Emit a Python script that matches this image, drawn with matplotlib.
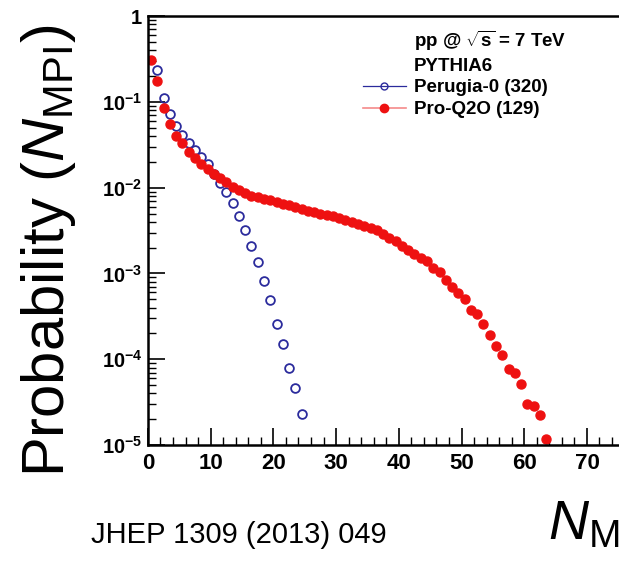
import math
import matplotlib
matplotlib.use('Agg')
import matplotlib.pyplot as plt
import matplotlib.ticker as ticker
from matplotlib.lines import Line2D

# N_MPI bin centres and probabilities
n_perugia = [1.5, 2.5, 3.5, 4.5, 5.5, 6.5, 7.5, 8.5, 9.5, 10.5, 11.5, 12.5,
             13.5, 14.5, 15.5, 16.5, 17.5, 18.5, 19.5, 20.5, 21.5, 22.5, 23.5, 24.5]
p_perugia = [0.235, 0.11, 0.0715, 0.052, 0.041, 0.033, 0.0274, 0.0225, 0.0187,
             0.0146, 0.0114, 0.0088, 0.00656, 0.00467, 0.0032, 0.0021, 0.00137,
             0.00081, 0.00049, 0.00026, 0.000152, 7.8e-5, 4.65e-5, 2.28e-5]

n_proq2o = [0.5, 1.5, 2.5, 3.5, 4.5, 5.5, 6.5, 7.5, 8.5, 9.5, 10.5, 11.5, 12.5,
            13.5, 14.5, 15.5, 16.5, 17.5, 18.5, 19.5, 20.5, 21.5, 22.5, 23.5,
            24.5, 25.5, 26.5, 27.5, 28.5, 29.5, 30.5, 31.5, 32.5, 33.5, 34.5,
            35.5, 36.5, 37.5, 38.5, 39.5, 40.5, 41.5, 42.5, 43.5, 44.5, 45.5,
            46.5, 47.5, 48.5, 49.5, 50.5, 51.5, 52.5, 53.5, 54.5, 55.5, 56.5,
            57.5, 58.5, 59.5, 60.5, 61.5, 62.5, 63.5]
p_proq2o = [0.31, 0.175, 0.084, 0.055, 0.040, 0.033, 0.026, 0.022, 0.0188, 0.0165,
            0.0145, 0.0129, 0.0115, 0.0102, 0.0093, 0.0086, 0.0081, 0.0078, 0.0074,
            0.0071, 0.0068, 0.0065, 0.0062, 0.0059, 0.0056, 0.0054, 0.0052, 0.0050,
            0.0048, 0.0047, 0.0044, 0.0042, 0.0040, 0.0038, 0.0036, 0.0034, 0.0032,
            0.0029, 0.0026, 0.0024, 0.0021, 0.0019, 0.0017, 0.0015, 0.0014, 0.00117,
            0.00105, 0.00084, 0.0007, 0.00059, 0.00051, 0.00037, 0.00034, 0.00026,
            0.00019, 0.000144, 0.000112, 7.6e-5, 6.9e-5, 5.2e-5, 3.0e-5, 2.85e-5,
            2.24e-5, 1.17e-5]

blue = '#2b2b9c'
red = '#ee1111'

plt.rcParams['font.family'] = ['Liberation Sans', 'DejaVu Sans']
plt.rcParams['mathtext.fontset'] = 'custom'
plt.rcParams['mathtext.rm'] = 'Liberation Sans'
plt.rcParams['mathtext.it'] = 'Liberation Sans:italic'
plt.rcParams['mathtext.bf'] = 'Liberation Sans:bold'

fig = plt.figure(figsize=(6.19, 5.65), dpi=100)
ax = fig.add_axes([0.239, 0.2124, 0.77, 0.759])

ax.plot(n_perugia, p_perugia, linestyle='none', marker='o', markersize=6.3,
        markerfacecolor='none', markeredgecolor=blue, markeredgewidth=1.3)
ax.plot(n_proq2o, p_proq2o, linestyle='none', marker='o', markersize=6.5,
        color=red, markeredgecolor=red)

ax.set_yscale('log')
ax.set_ylim(1e-5, 1)
ax.set_xlim(0, 76)

# ROOT-like ticks: inside, bold labels
ax.xaxis.set_major_locator(ticker.MultipleLocator(10))
ax.xaxis.set_minor_locator(ticker.MultipleLocator(2))
ax.yaxis.set_major_locator(ticker.LogLocator(base=10, numticks=10))
ax.yaxis.set_minor_locator(ticker.LogLocator(base=10, subs=range(2, 10), numticks=20))
ax.yaxis.set_minor_formatter(ticker.NullFormatter())


def ylab(v, pos):
    if v >= 1:
        return r'$\mathbf{1}$'
    return r'$\mathbf{10^{%d}}$' % int(round(math.log10(v)))


ax.yaxis.set_major_formatter(ticker.FuncFormatter(ylab))
ax.tick_params(which='major', direction='in', length=12, width=1.2, pad=4)
ax.tick_params(which='minor', direction='in', length=6, width=1.0)
ax.tick_params(axis='y', labelsize=14.5)
ax.tick_params(axis='x', pad=6, labelsize=16)
for lab in ax.get_xticklabels():
    lab.set_fontweight('bold')
for s in ax.spines.values():
    s.set_linewidth(1.8)

# legend with header lines
handles = [Line2D([], [], color='none', label='pp @ $\\mathbf{\\sqrt{s}}$ = 7 TeV'),
           Line2D([], [], color='none', label='PYTHIA6'),
           Line2D([], [], color=blue, lw=0.9, marker='o', markersize=5,
                  markerfacecolor='none', markeredgecolor=blue, label='Perugia-0 (320)'),
           Line2D([], [], color='#f58a8a', lw=1.2, marker='o', markersize=6,
                  markerfacecolor=red, markeredgecolor=red, label='Pro-Q2O (129)')]
leg = ax.legend(handles=handles, loc='upper left', bbox_to_anchor=(0.415, 1.01),
                frameon=False, handlelength=2.3, handletextpad=0.45,
                labelspacing=0.25, prop={'weight': 'bold', 'size': 13.5})

fig.text(0.078, 0.556, r'Probability ($N_{\mathrm{MPI}}$)', rotation=90,
         fontsize=43, ha='center', va='center')
fig.text(0.885, 0.07, r'$N_{\mathrm{MPI}}$', fontsize=40, ha='left', va='center')
fig.text(0.385, 0.053, 'JHEP 1309 (2013) 049', fontsize=21, ha='center', va='center')

fig.savefig('out.png', dpi=100)
